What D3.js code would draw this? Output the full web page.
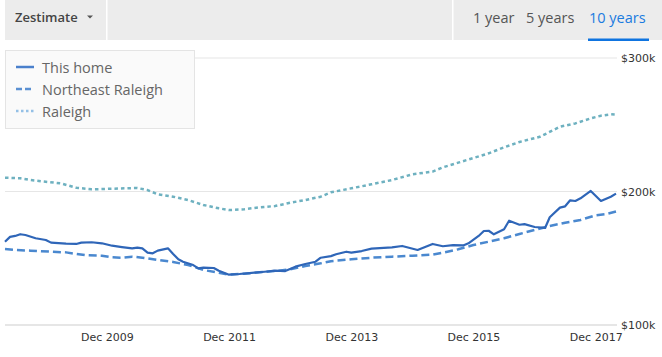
<!DOCTYPE html>
<html>
<head>
<meta charset="utf-8">
<script src="https://cdn.jsdelivr.net/npm/d3@7/dist/d3.min.js"></script>
<style>
  html, body { margin: 0; padding: 0; background: #fff; }
  svg { display: block; }
</style>
</head>
<body>
<svg id="chart" width="662" height="357"></svg>
<script>
// ---- Data (values in $k) ----
const seriesNames = ["This home", "Northeast Raleigh", "Raleigh"];

const thisHomeDates = ["2008-04","2008-05","2008-06","2008-07","2008-08","2008-10","2008-12","2009-01","2009-04","2009-06","2009-07","2009-09","2009-11","2010-01","2010-03","2010-05","2010-06","2010-07","2010-08","2010-09","2010-10","2010-12","2011-01","2011-02","2011-03","2011-05","2011-06","2011-07","2011-09","2011-10","2011-12","2012-02","2012-05","2012-07","2012-09","2012-11","2013-01","2013-03","2013-05","2013-06","2013-08","2013-09","2013-11","2013-12","2014-02","2014-04","2014-08","2014-10","2015-01","2015-04","2015-06","2015-08","2015-10","2015-11","2016-01","2016-02","2016-03","2016-04","2016-06","2016-07","2016-09","2016-10","2016-12","2017-02","2017-03","2017-05","2017-06","2017-07","2017-08","2017-09","2017-11","2018-01","2018-03","2018-04"];
const thisHomeValues = [162.4,166,166.7,168,167.4,165,163.7,161.7,160.9,160.7,161.7,162,161.2,159.4,158.4,157.4,157.9,157.4,154.2,153.7,155.7,157.4,153.2,149.2,147.4,144.9,142.4,143,142.7,140.7,137.7,138.2,139.2,139.9,140.7,140.4,143.7,145.7,147.4,150.4,151.6,153,154.9,154.2,155.4,157.2,158.2,159.2,156.2,160.7,159,159.9,159.6,161.2,166.7,170.4,170.6,167.9,171.7,178.1,175.1,175.6,173.4,172.7,180.7,187.9,188.9,193.4,192.9,194.9,200.4,192.9,196.1,198.4];

const neDates = ["2008-04","2008-06","2008-09","2009-01","2009-04","2009-06","2009-08","2009-11","2010-01","2010-03","2010-05","2010-07","2010-10","2011-01","2011-04","2011-07","2011-10","2011-12","2012-03","2012-06","2012-09","2012-12","2013-03","2013-06","2013-08","2013-12","2014-04","2014-08","2014-12","2015-04","2015-06","2015-09","2015-12","2016-03","2016-06","2016-09","2016-12","2017-03","2017-06","2017-09","2017-12","2018-02","2018-04"];
const neValues = [156.9,156.2,155.7,154.9,154.4,153.2,152.2,151.9,150.7,150.4,151.2,150.4,148.7,147.2,144.9,141.2,139.2,137.7,138.4,139.5,140.4,141.7,144.2,146.2,147.8,149.2,150.4,151.2,151.9,152.7,154.2,156.7,159.9,162.4,165,168.2,171.2,174.2,176.6,178.7,182.2,183.1,185.0];

const raleighDates = ["2008-04","2008-07","2008-09","2008-12","2009-03","2009-06","2009-09","2010-01","2010-06","2010-08","2010-10","2011-01","2011-04","2011-07","2011-10","2011-12","2012-03","2012-06","2012-09","2012-12","2013-03","2013-06","2013-08","2013-12","2014-04","2014-08","2014-12","2015-04","2015-06","2015-09","2015-12","2016-03","2016-06","2016-09","2017-01","2017-05","2017-08","2017-11","2018-01","2018-03","2018-04"];
const raleighValues = [210.3,209.9,208.6,207.3,206.1,202.8,201.6,202.1,202.6,201.1,197.9,196.1,193.6,189.9,187.4,186.1,186.7,188.2,189.1,191.6,193.6,196.1,199.4,202.4,205.4,208.6,212.9,214.9,218.1,221.6,225.1,228.6,233.1,237.1,241,248.5,251,254.8,256.8,257.8,257.6];

const yTicks = [100, 200, 300];
const yTickLabels = ["$100k", "$200k", "$300k"];
const xTickDates = ["2009-12", "2011-12", "2013-12", "2015-12", "2017-12"];
const xTickLabels = ["Dec 2009", "Dec 2011", "Dec 2013", "Dec 2015", "Dec 2017"];
const tabLabels = ["1 year", "5 years", "10 years"];

// ---- Setup ----
const parse = d3.timeParse("%Y-%m");
const svg = d3.select("#chart");

const x = d3.scaleTime()
  .domain([parse("2008-04"), parse("2018-04")])
  .range([5, 616]);
const y = d3.scaleLinear().domain([100, 300]).range([325, 58]);

// ---- Header ----
svg.append("rect").attr("x", 5).attr("y", 0).attr("width", 657).attr("height", 40).attr("fill", "#ececec");
svg.append("rect").attr("x", 106).attr("y", 0).attr("width", 1.5).attr("height", 40).attr("fill", "#fff");
svg.append("rect").attr("x", 452).attr("y", 0).attr("width", 1.5).attr("height", 40).attr("fill", "#fff");
svg.append("text").attr("x", 15).attr("y", 21.5)
  .attr("font-family", "'Open Sans', sans-serif").attr("font-weight", 600)
  .attr("font-size", 13).attr("fill", "#444").text("Zestimate");
svg.append("path").attr("d", "M87,15.5 L93,15.5 L90,18.5 Z").attr("fill", "#555");

const tabX = [473, 526, 589];
tabLabels.forEach((t, i) => {
  svg.append("text").attr("x", tabX[i]).attr("y", 22.5)
    .attr("font-family", "'Open Sans', sans-serif").attr("font-size", 14.5)
    .attr("fill", i === 2 ? "#1a7be0" : "#555").text(t);
});
svg.append("rect").attr("x", 588).attr("y", 38.5).attr("width", 61).attr("height", 2.5).attr("fill", "#0f74e0");

// ---- Grid & axes ----
const grid = svg.append("g");
yTicks.forEach((v, i) => {
  grid.append("line").attr("x1", 5).attr("x2", 617)
    .attr("y1", y(v)).attr("y2", y(v))
    .attr("stroke", "#e6e6e6").attr("stroke-width", i === 0 ? 2 : 1.2);
  grid.append("text").attr("x", 621).attr("y", y(v) + 4)
    .attr("font-family", "'DejaVu Sans', sans-serif").attr("font-size", 11)
    .attr("fill", "#333").text(yTickLabels[i]);
});

const xAxis = d3.axisBottom(x)
  .tickValues(xTickDates.map(parse))
  .tickFormat((d, i) => xTickLabels[i])
  .tickSize(0).tickPadding(0);
const xg = svg.append("g").attr("transform", "translate(0,333)").call(xAxis);
xg.select(".domain").remove();
xg.selectAll("text").attr("font-family", "'DejaVu Sans', sans-serif")
  .attr("font-size", 11).attr("fill", "#333").attr("dy", "0.71em");

// ---- Lines ----
const line = d3.line().x(d => x(d.date)).y(d => y(d.value)).curve(d3.curveLinear);
const mk = (dates, vals) => dates.map((d, i) => ({ date: parse(d), value: vals[i] }));

const series = [
  { data: mk(raleighDates, raleighValues), color: "#6eb1c0", dash: "3.5,3", width: 2.5 },
  { data: mk(neDates, neValues), color: "#4a88cf", dash: "8,4", width: 2.5 },
  { data: mk(thisHomeDates, thisHomeValues), color: "#2f66b8", dash: null, width: 2.2 }
];
series.forEach(s => {
  svg.append("path").datum(s.data).attr("d", line)
    .attr("fill", "none").attr("stroke", s.color)
    .attr("stroke-width", s.width).attr("stroke-dasharray", s.dash)
    .attr("stroke-linejoin", "round");
});

// ---- Legend ----
const lg = svg.append("g");
lg.append("rect").attr("x", 5.5).attr("y", 50.5).attr("width", 189).attr("height", 78)
  .attr("fill", "#fafafa").attr("stroke", "#e4e4e4");
const legendColors = ["#4a80cc", "#5a90d2", "#94c0e6"];
const legendDash = [null, "6,3", "2.5,2.5"];
seriesNames.forEach((n, i) => {
  const cy = 67 + i * 22;
  lg.append("line").attr("x1", 16).attr("x2", 34).attr("y1", cy).attr("y2", cy)
    .attr("stroke", legendColors[i]).attr("stroke-width", 2.5)
    .attr("stroke-dasharray", legendDash[i]);
  lg.append("text").attr("x", 42).attr("y", cy + 5.5)
    .attr("font-family", "'Open Sans', sans-serif").attr("font-size", 14.5)
    .attr("fill", "#666").text(n);
});
</script>
</body>
</html>
